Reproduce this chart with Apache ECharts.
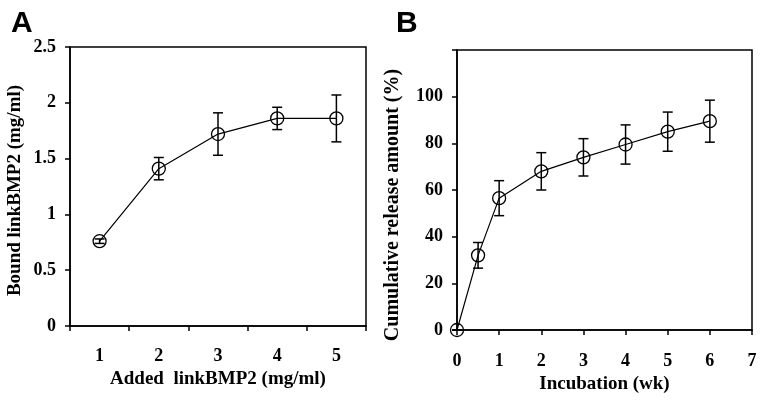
<!DOCTYPE html>
<html>
<head>
<meta charset="utf-8">
<script src="https://cdn.jsdelivr.net/npm/echarts@6/dist/echarts.min.js"></script>
<style>
html,body{margin:0;padding:0;background:#fff;}
#c{width:761px;height:402px;}
</style>
</head>
<body>
<div id="c"></div>
<script>
// Panel A data
var catsA = ['1', '2', '3', '4', '5'];
var boundA = [0.76, 1.41, 1.72, 1.86, 1.86];
var errA = [0.02, 0.10, 0.19, 0.10, 0.21];
// Panel B data
var weeksB = [0, 0.5, 1, 2, 3, 4, 5, 6];
var releaseB = [0, 32, 56.5, 68, 74, 79.5, 85, 89.5];
var errB = [0, 5.5, 7.5, 8, 8, 8.4, 8.4, 9];

var chart = echarts.init(document.getElementById('c'), null, {renderer: 'canvas'});
var serif = 'Liberation Serif';
var labelStyle = {color: '#000', fontFamily: serif, fontWeight: 'bold', fontSize: 18};
function nameStyle(size, pad) {
  return {color: '#000', fontFamily: serif, fontWeight: 'bold', fontSize: size, padding: pad || 0};
}
var axLine = {show: true, lineStyle: {color: '#000', width: 1.5}};
var axTick = {show: true, inside: false, length: 5, lineStyle: {color: '#000', width: 1.5}};

function errRender(params, api) {
  var x = api.value(0), lo = api.value(1), hi = api.value(2);
  var pLo = api.coord([x, lo]);
  var pHi = api.coord([x, hi]);
  var cap = 5;
  var st = {stroke: '#000', lineWidth: 1.5};
  return {
    type: 'group',
    children: [
      {type: 'line', shape: {x1: pLo[0], y1: pLo[1], x2: pHi[0], y2: pHi[1]}, style: st},
      {type: 'line', shape: {x1: pLo[0] - cap, y1: pLo[1], x2: pLo[0] + cap, y2: pLo[1]}, style: st},
      {type: 'line', shape: {x1: pHi[0] - cap, y1: pHi[1], x2: pHi[0] + cap, y2: pHi[1]}, style: st}
    ]
  };
}

var errDataA = catsA.map(function (c, i) { return [i, boundA[i] - errA[i], boundA[i] + errA[i]]; });
var errDataB = weeksB.map(function (w, i) { return [w, releaseB[i] - errB[i], releaseB[i] + errB[i]]; });

var markerStyle = {color: 'rgba(0,0,0,0)', borderColor: '#000', borderWidth: 1.3};

chart.setOption({
  animation: false,
  backgroundColor: '#fff',
  title: [
    {text: 'A', left: 6, top: 4, textStyle: {fontFamily: 'Liberation Sans', fontWeight: 'bold', fontSize: 30, color: '#000'}},
    {text: 'B', left: 391, top: 4, textStyle: {fontFamily: 'Liberation Sans', fontWeight: 'bold', fontSize: 30, color: '#000'}}
  ],
  grid: [
    {left: 70, right: 395, top: 47, bottom: 76, show: true, borderColor: '#000', borderWidth: 1.5, backgroundColor: 'transparent'},
    {left: 457, right: 9, top: 50, bottom: 72, show: true, borderColor: '#000', borderWidth: 1.5, backgroundColor: 'transparent'}
  ],
  xAxis: [
    {
      gridIndex: 0, type: 'category', data: catsA, boundaryGap: true,
      name: 'Added  linkBMP2 (mg/ml)', nameLocation: 'middle', nameGap: 44, nameTextStyle: nameStyle(19),
      axisLine: axLine, axisTick: axTick, axisLabel: Object.assign({margin: 21}, labelStyle),
      splitLine: {show: false}
    },
    {
      gridIndex: 1, type: 'value', min: 0, max: 7, interval: 1,
      name: 'Incubation (wk)', nameLocation: 'middle', nameGap: 45, nameTextStyle: nameStyle(19),
      axisLine: axLine, axisTick: axTick, axisLabel: Object.assign({margin: 22}, labelStyle),
      splitLine: {show: false}
    }
  ],
  yAxis: [
    {
      gridIndex: 0, type: 'value', min: 0, max: 2.5, interval: 0.5,
      name: 'Bound linkBMP2 (mg/ml)', nameLocation: 'middle', nameGap: 45, nameTextStyle: nameStyle(19, [0, 8, 0, 0]),
      axisLine: axLine, axisTick: axTick, axisLabel: Object.assign({margin: 14}, labelStyle),
      splitLine: {show: false}
    },
    {
      gridIndex: 1, type: 'value', min: 0, max: 120, interval: 20,
      name: 'Cumulative release amount (%)', nameLocation: 'middle', nameGap: 54, nameTextStyle: nameStyle(20, [0, 30, 0, 0]),
      axisLine: axLine, axisTick: axTick,
      axisLabel: Object.assign({margin: 14, formatter: function (v) { return v > 100 ? '' : String(v); }}, labelStyle),
      splitLine: {show: false}
    }
  ],
  series: [
    {
      type: 'line', xAxisIndex: 0, yAxisIndex: 0, data: boundA,
      symbol: 'circle', symbolSize: 13, itemStyle: markerStyle,
      lineStyle: {color: '#000', width: 1.2}, z: 3
    },
    {
      type: 'custom', xAxisIndex: 0, yAxisIndex: 0, data: errDataA,
      renderItem: errRender, encode: {x: 0, y: [1, 2]}, z: 4
    },
    {
      type: 'line', xAxisIndex: 1, yAxisIndex: 1,
      data: weeksB.map(function (w, i) { return [w, releaseB[i]]; }),
      symbol: 'circle', symbolSize: 13, itemStyle: markerStyle,
      lineStyle: {color: '#000', width: 1.2}, z: 3
    },
    {
      type: 'custom', xAxisIndex: 1, yAxisIndex: 1, data: errDataB,
      renderItem: errRender, encode: {x: 0, y: [1, 2]}, z: 4
    }
  ]
});
</script>
</body>
</html>
